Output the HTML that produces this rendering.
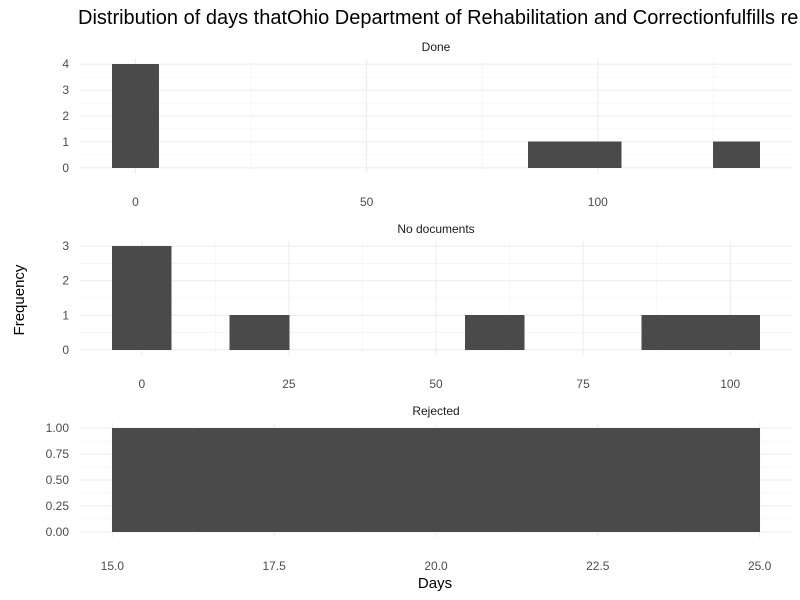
<!DOCTYPE html>
<html><head><meta charset="utf-8"><style>
body{margin:0;background:#fff;}
svg{display:block;font-family:"Liberation Sans",sans-serif;}
</style></head><body>
<svg id="chart" width="800" height="600">
<text x="78" y="24" font-size="20" fill="#000">Distribution of days thatOhio Department of Rehabilitation and Correctionfulfills re</text>
<text transform="translate(24,300) rotate(-90)" text-anchor="middle" font-size="15" fill="#000">Frequency</text>
<text x="435" y="588" text-anchor="middle" font-size="15" fill="#000">Days</text>
</svg>
<script>
// Panel data
const panelNames = ["Done", "No documents", "Rejected"];
const doneBins = [0, 90, 100, 130];
const doneCounts = [4, 1, 1, 1];
const noDocBins = [0, 20, 60, 90, 100];
const noDocCounts = [3, 1, 1, 1, 1];
const rejectedBins = [20];
const rejectedCounts = [1];
const binWidth = 10;
const doneXTicks = [0, 50, 100];
const doneYTicks = [0, 1, 2, 3, 4];
const noDocXTicks = [0, 25, 50, 75, 100];
const noDocYTicks = [0, 1, 2, 3];
const rejectedXTicks = [15, 17.5, 20, 22.5, 25];
const rejectedYTicks = [0, 0.25, 0.5, 0.75, 1];

const svg = document.getElementById('chart');
const NS = 'http://www.w3.org/2000/svg';
function mk(tag, attrs, parent) {
  const e = document.createElementNS(NS, tag);
  for (const k in attrs) e.setAttribute(k, attrs[k]);
  (parent || svg).appendChild(e);
  return e;
}
const panels = [
  {name: panelNames[0], bins: doneBins, counts: doneCounts, xt: doneXTicks, yt: doneYTicks, top: 59, bot: 173, fmtX: v => String(v), fmtY: v => String(v), key: 'done'},
  {name: panelNames[1], bins: noDocBins, counts: noDocCounts, xt: noDocXTicks, yt: noDocYTicks, top: 241, bot: 355, fmtX: v => String(v), fmtY: v => String(v), key: 'no-documents'},
  {name: panelNames[2], bins: rejectedBins, counts: rejectedCounts, xt: rejectedXTicks, yt: rejectedYTicks, top: 423, bot: 537, fmtX: v => v.toFixed(1), fmtY: v => v.toFixed(2), key: 'rejected'}
];
const L = 80, R = 792;
panels.forEach(p => {
  const g = mk('g', {});
  
  
  const lo = Math.min(...p.bins) - binWidth / 2, hi = Math.max(...p.bins) + binWidth / 2;
  const ex = (hi - lo) * 0.05;
  const x0 = lo - ex, x1 = hi + ex;
  const ymax = Math.max(...p.yt, ...p.counts);
  const ey = ymax * 0.05;
  const xs = v => L + (v - x0) / (x1 - x0) * (R - L);
  const ys = v => p.bot - (v + ey) / (ymax + 2 * ey) * (p.bot - p.top);
  for (let i = 0; i < p.yt.length - 1; i++) {
    const m = (p.yt[i] + p.yt[i + 1]) / 2;
    mk('line', {x1: L, x2: R, y1: ys(m), y2: ys(m), stroke: '#f2f2f2', 'stroke-width': 0.6}, g);
  }
  const xstep = p.xt[1] - p.xt[0];
  for (let v = p.xt[0] - xstep / 2; v <= x1; v += xstep) {
    if (v < x0) continue;
    mk('line', {x1: xs(v), x2: xs(v), y1: p.top, y2: p.bot, stroke: '#f2f2f2', 'stroke-width': 0.6}, g);
  }
  p.yt.forEach(v => {
    mk('line', {x1: L, x2: R, y1: ys(v), y2: ys(v), stroke: '#ebebeb', 'stroke-width': 1}, g);
    const t = mk('text', {x: 69, y: ys(v) + 4, 'text-anchor': 'end', 'font-size': 12, fill: '#4d4d4d'}, g);
    t.textContent = p.fmtY(v);
    
    
  });
  p.xt.forEach(v => {
    mk('line', {x1: xs(v), x2: xs(v), y1: p.top, y2: p.bot, stroke: '#ebebeb', 'stroke-width': 1}, g);
    const t = mk('text', {x: xs(v), y: p.bot + 33, 'text-anchor': 'middle', 'font-size': 12, fill: '#4d4d4d'}, g);
    t.textContent = p.fmtX(v);
    
    
  });
  p.bins.forEach((b, i) => {
    const r = mk('rect', {x: xs(b - binWidth / 2), width: xs(b + binWidth / 2) - xs(b - binWidth / 2), y: ys(p.counts[i]), height: ys(0) - ys(p.counts[i]), fill: '#4a4a4a', stroke: '#4a4a4a', 'stroke-width': 0.8, 'shape-rendering': 'crispEdges'}, g);
    
    
  });
  const s = mk('text', {x: (L + R) / 2, y: p.top - 8, 'text-anchor': 'middle', 'font-size': 12, fill: '#1a1a1a'}, g);
  s.textContent = p.name;
  
  
});
</script>
</body></html>
